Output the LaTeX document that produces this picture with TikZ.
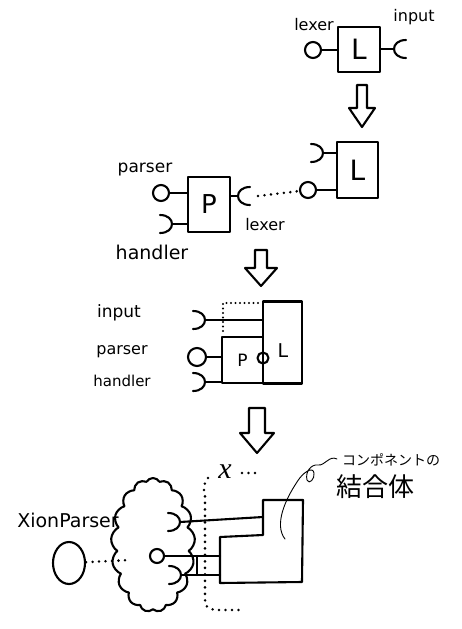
\documentclass[tikz,border=0pt]{standalone}
\usepackage{fontspec}
\setmainfont{DejaVu Sans}
\newfontfamily\jp{Noto Sans CJK JP}
\newfontfamily\xserif{Liberation Serif}
\usetikzlibrary{shapes.symbols,shapes.geometric,calc}
\tikzset{
  ink/.style={line width=2.1pt, line cap=round, line join=round},
  box/.style={draw, ink, rectangle, inner sep=0pt},
  lolli/.style={draw, ink, circle, inner sep=0pt, minimum size=#1},
  lbl/.style={inner sep=0pt, font=\fontsize{#1}{#1}\selectfont},
  dotline/.style={line width=2.8pt, line cap=round, dash pattern=on 0pt off 6.5pt},
  dotfine/.style={line width=2.4pt, line cap=round, dash pattern=on 0pt off 4.5pt},
  sockL/.pic={\draw[ink] (-12,-9) .. controls (4,-9) and (4,9) .. (-12,9); \coordinate (-c) at (0,0);},
  sockR/.pic={\draw[ink] (12,-9) .. controls (-4,-9) and (-4,9) .. (12,9); \coordinate (-c) at (0,0);},
  thin/.style={line width=0.9pt, line cap=round}
}
\begin{document}
\begin{tikzpicture}[x=1pt,y=-1pt]
\useasboundingbox (0,0) rectangle (462,629);
% ---------- part 1
\node[box, minimum width=42pt, minimum height=45pt, font=\fontsize{28}{28}\selectfont] (L1) at (359,49.5) {L};
\node[lolli=16pt] (lo1) at (313,50) {};
\draw[ink] (lo1) -- (lo1 -| L1.west);
\pic (s1) at (394,49) {sockR};
\draw[ink] (L1.east |- s1-c) -- (s1-c);
\node[lbl=16] (t1) at (314,25) {lexer};
\node[lbl=16] (t2) at (414,17) {input};
\coordinate (a1) at (362,85);
\draw[ink, shift={(a1)}] (-5,0) -- (5,0) -- (5,23) -- (13,23) -- (0,42) -- (-13,23) -- (-5,23) -- cycle;
% ---------- part 2
\node[box, minimum width=41pt, minimum height=56pt, font=\fontsize{28}{28}\selectfont] (L2) at (357.5,170) {L};
\pic (s2) at (323,153) {sockL};
\draw[ink] (s2-c) -- (s2-c -| L2.west);
\node[lolli=16pt] (lo2) at (308,190) {};
\draw[ink] (lo2) -- (lo2 -| L2.west);
\node[box, minimum width=42pt, minimum height=55pt, font=\fontsize{26}{26}\selectfont] (P2) at (209,204.5) {P};
\node[lolli=16pt] (lo3) at (161,193) {};
\draw[ink] (lo3) -- (lo3 -| P2.west);
\pic (s3) at (172,224) {sockL};
\draw[ink] (s3-c) -- (s3-c -| P2.west);
\pic (s4) at (238,196) {sockR};
\draw[ink] (P2.east |- s4-c) -- (s4-c);
\coordinate (d2a) at (258,196);
\draw[dotline] (d2a) -- (lo2);
\node[lbl=17] (t3) at (145,170) {parser};
\node[lbl=19] (t4) at (152,252) {handler};
\node[lbl=16] (t5) at (265,225) {lexer};
\coordinate (a2) at (261,250);
\draw[ink, shift={(a2)}] (-6,0) -- (6,0) -- (6,18) -- (16,18) -- (0,36) -- (-16,18) -- (-6,18) -- cycle;
% ---------- part 3
\node[box, minimum width=39pt, minimum height=82pt] (L3) at (282.5,342.5) {};
\node[box, minimum width=41pt, minimum height=46pt, font=\fontsize{17}{17}\selectfont] (P3) at (242.5,360) {P\hspace{9pt}};
\node[lbl=19] (L3t) at (283,351) {L};
\node[lolli=11pt] (lo4) at (263,358) {};
\pic (s5) at (205,320) {sockL};
\draw[ink] (s5-c) -- (s5-c -| L3.west);
\coordinate (d3a) at (223,303);
\coordinate (d3b) at (258,303);
\coordinate (d3c) at (223,335);
\draw[dotfine] (d3b) -- (d3a) -- (d3c);
\node[lolli=18pt] (lo5) at (197,357) {};
\draw[ink] (lo5) -- (lo5 -| P3.west);
\pic (s6) at (205,382) {sockL};
\draw[ink] (s6-c) -- (s6-c -| P3.west);
\node[lbl=17] (t6) at (119,313) {input};
\node[lbl=16] (t7) at (122,352) {parser};
\node[lbl=15] (t8) at (122,381) {handler};
\coordinate (a3) at (257,408);
\draw[ink, shift={(a3)}] (-8,0) -- (8,0) -- (8,25) -- (17,25) -- (0,45) -- (-17,25) -- (-8,25) -- cycle;
% ---------- part 4
\node[cloud, draw, ink, cloud puffs=17, cloud puff arc=120, cloud ignores aspect, minimum width=84pt, minimum height=134pt, inner sep=0pt] (cl) at (153,545) {};
\coordinate (cb1) at (263,500);
\coordinate (cb2) at (303,500);
\coordinate (cb3) at (302,582);
\coordinate (cb4) at (220,583);
\coordinate (cb5) at (220,537);
\coordinate (cb6) at (263,535);
\draw[ink] (cb1) -- (cb2) -- (cb3) -- (cb4) -- (cb5) -- (cb6) -- cycle;
\coordinate (cbIn) at (263,517);
\pic (s7) at (180,522) {sockL};
\draw[ink] (s7-c) -- (cbIn);
\node[lolli=14pt] (lo7) at (157,556) {};
\draw[ink] (lo7) -- (lo7 -| cb5);
\pic (s8) at (181,575) {sockL};
\draw[ink] (s8-c) -- (s8-c -| cb5);
\coordinate (k) at (197,0);
\draw[ink] (lo7 -| k) -- (s8-c -| k);
\draw[dotline] (208,478) .. controls (203,486) .. (205,495) -- (205,595) .. controls (205,607) .. (215,610) -- (240,610);
\node[inner sep=0pt, font=\xserif\itshape\fontsize{30}{30}\selectfont] (xm) at (225,472) {x};
\coordinate (d4a) at (242,473);
\coordinate (d4b) at (258,473);
\draw[dotline] (d4a) -- (d4b);
\node[lbl=19] (t9) at (68,520) {XionParser};
\node[draw, ink, ellipse, minimum width=32pt, minimum height=42pt, inner sep=0pt] (xp) at (69,563) {};
\coordinate (xpd) at (131,560);
\draw[dotline] (xp) -- (xpd);
\node[inner sep=0pt, font=\jp\fontsize{14}{14}\selectfont] (jp1) at (391,460) {コンポネントの};
\node[inner sep=0pt, font=\jp\fontsize{26}{26}\selectfont] (jp2) at (375,487) {結合体};
\coordinate (cs) at (337,459);
\coordinate (ce) at (285,539);
\draw[thin] (cs) .. controls (329,455) and (325,466) .. (318,465)
  .. controls (311,464) and (305,472) .. (307,480)
  .. controls (309,485) and (315,479) .. (314,473)
  .. controls (313,466) and (303,472) .. (297,482)
  .. controls (285,500) and (274,525) .. (ce);
\end{tikzpicture}
\end{document}
